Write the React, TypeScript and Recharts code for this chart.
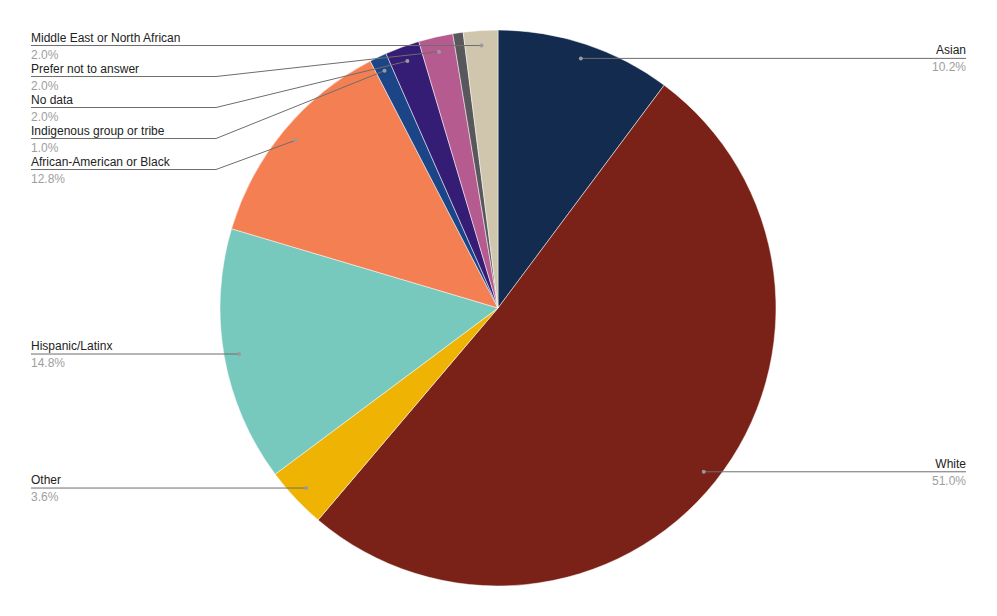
import { Cell, Pie, PieChart } from "recharts"

const categories = [
  "Asian",
  "White",
  "Other",
  "Hispanic/Latinx",
  "African-American or Black",
  "Indigenous group or tribe",
  "No data",
  "Prefer not to answer",
  "",
  "Middle East or North African",
]
const shares = [10.2, 51.0, 3.6, 14.8, 12.8, 1.0, 2.0, 2.0, 0.6, 2.0]
const colors = [
  "#132b4f",
  "#7a2217",
  "#efb403",
  "#78c9bd",
  "#f47f53",
  "#1c4587",
  "#351c75",
  "#b65b8f",
  "#58585c",
  "#cfc6ad",
]

// layout
const CX = 498
const CY = 308
const R = 278
const ANCHOR = 263
const LEFT_X = 31
const RIGHT_X = 966
const ELBOW_X = 216
const GAP = 31

const data = categories.map((name, i) => ({ name, value: shares[i] }))

const total = shares.reduce((a, b) => a + b, 0)
let cum = 0
const anchors = shares.map((v) => {
  const mid = ((cum + v / 2) / total) * 2 * Math.PI
  cum += v
  const x = CX + ANCHOR * Math.sin(mid)
  const y = CY - ANCHOR * Math.cos(mid)
  return { x, y, left: x < CX }
})

// stack labels on each side so they don't overlap
const labelY: number[] = anchors.map((a) => a.y)
;[true, false].forEach((side) => {
  const idx = anchors
    .map((a, i) => i)
    .filter((i) => anchors[i].left === side && categories[i] !== "")
    .sort((a, b) => anchors[a].y - anchors[b].y)
  let prev = -Infinity
  idx.forEach((i) => {
    const y = Math.max(anchors[i].y, prev + GAP)
    labelY[i] = y
    prev = y
  })
})

const font = "Arial, 'Liberation Sans', sans-serif"

function renderLabel(props: any) {
  const i = props.index
  if (!categories[i]) return null
  const a = anchors[i]
  const ly = labelY[i]
  const tx = a.left ? LEFT_X : RIGHT_X
  const anchor = a.left ? "start" : "end"
  let points: string
  if (Math.abs(ly - a.y) < 1) {
    points = `${tx},${a.y} ${a.x},${a.y}`
  } else {
    const ex = a.left ? ELBOW_X : RIGHT_X - (ELBOW_X - LEFT_X)
    points = `${tx},${ly} ${ex},${ly} ${a.x},${a.y}`
  }
  return (
    <g key={"lbl" + i}>
      <polyline points={points} fill="none" stroke="#6d6d6d" strokeWidth={1} />
      <circle cx={a.x} cy={a.y} r={2} fill="#9a9a9a" />
      <text x={tx} y={ly - 4} textAnchor={anchor} fontFamily={font} fontSize={12} fill="#222">
        {categories[i]}
      </text>
      <text x={tx} y={ly + 13} textAnchor={anchor} fontFamily={font} fontSize={12} fill="#9e9e9e">
        {shares[i].toFixed(1) + "%"}
      </text>
    </g>
  )
}

export default function App() {
  return (
    <div>
      <style>{`body{margin:0;background:#fff}`}</style>
      <PieChart width={997} height={616} margin={{ top: 0, right: 0, bottom: 0, left: 0 }}>
        <Pie
          data={data}
          dataKey="value"
          nameKey="name"
          cx={CX}
          cy={CY}
          outerRadius={R}
          startAngle={90}
          endAngle={-270}
          stroke="#fff"
          strokeWidth={0.5}
          labelLine={false}
          label={renderLabel}
          isAnimationActive={false}
        >
          {data.map((d, i) => (
            <Cell key={i} fill={colors[i]} />
          ))}
        </Pie>
      </PieChart>
    </div>
  )
}
